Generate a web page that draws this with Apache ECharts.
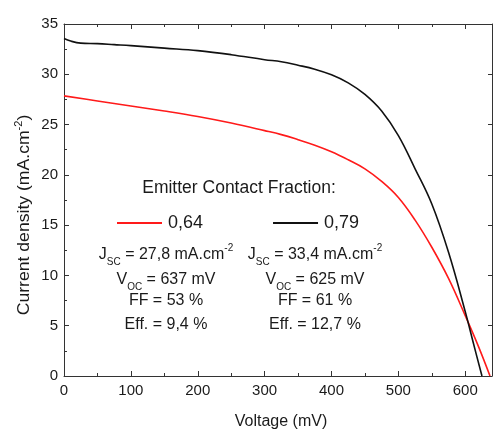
<!DOCTYPE html>
<html>
<head>
<meta charset="utf-8">
<script src="https://cdn.jsdelivr.net/npm/echarts@6/dist/echarts.min.js"></script>
<style>
  html, body { margin: 0; padding: 0; background: #fff; }
  #chart { width: 493px; height: 431px; }
</style>
</head>
<body>
<div id="chart"></div>
<script>
// J–V curves for two emitter contact fractions
const voltage079 = [0, 10, 25, 50, 75, 100, 150, 200, 250, 300, 325, 350, 375, 400, 425, 450, 475, 500, 525, 550, 575, 600, 612, 625];
const current079 = [33.55, 33.3, 33.1, 33.05, 32.95, 32.85, 32.6, 32.35, 31.95, 31.45, 31.25, 30.9, 30.5, 29.95, 29.15, 28.0, 26.35, 23.9, 20.6, 17.1, 12.3, 6.4, 3.3, 0];

const voltage064 = [0, 50, 100, 150, 200, 250, 300, 325, 350, 375, 400, 425, 450, 475, 500, 525, 550, 575, 600, 620, 637];
const current064 = [27.85, 27.35, 26.85, 26.35, 25.8, 25.15, 24.4, 24.0, 23.5, 22.95, 22.3, 21.5, 20.6, 19.35, 17.75, 15.5, 12.8, 9.7, 6.0, 2.9, 0];

const seriesNames = ['0,64', '0,79'];

// Cell parameters printed under the legend
const jsc = ['27,8', '33,4'];
const voc = ['637', '625'];
const ff = ['53', '61'];
const eff = ['9,4', '12,7'];

const FONT = 'Liberation Sans, Arial, sans-serif';
const TXT = '#1a1a1a';
const AXIS = '#333';

function pairs(xs, ys) { return xs.map((x, i) => [x, ys[i]]); }

const chart = echarts.init(document.getElementById('chart'), null, { renderer: 'canvas' });

const richStyles = {
  m: { fontSize: 16, fontFamily: FONT, fill: TXT, lineHeight: 18, verticalAlign: 'top', padding: [3, 0, 0, 0] },
  sub: { fontSize: 10, fontFamily: FONT, fill: TXT, lineHeight: 10, verticalAlign: 'top', padding: [13, 0, 0, 0] },
  sup: { fontSize: 10, fontFamily: FONT, fill: TXT, lineHeight: 10, verticalAlign: 'top' }
};

function plainText(x, y, text, size) {
  return { type: 'text', x: x, y: y, scaleY: 1.08,
    style: { text: text, fontSize: size, fontFamily: FONT, fill: TXT, align: 'center', verticalAlign: 'middle' } };
}

function block(cx, i) {
  return [
    { type: 'text', x: cx, y: 252, scaleY: 1.08, style: { text: '{m|J}{sub|SC}{m| = ' + jsc[i] + ' mA.cm}{sup|-2}', rich: richStyles, align: 'center', verticalAlign: 'middle' } },
    { type: 'text', x: cx, y: 277, scaleY: 1.08, style: { text: '{m|V}{sub|OC}{m| = ' + voc[i] + ' mV}', rich: richStyles, align: 'center', verticalAlign: 'middle' } },
    plainText(cx, 300, 'FF = ' + ff[i] + ' %', 16),
    plainText(cx, 324, 'Eff. = ' + eff[i] + ' %', 16)
  ];
}

const frameAxis = {
  type: 'value',
  axisLine: { show: true, onZero: false, lineStyle: { color: AXIS, width: 1 } },
  splitLine: { show: false }
};

chart.setOption({
  backgroundColor: '#fff',
  animation: false,
  grid: { left: 64, right: 1, top: 24, bottom: 55 },
  legend: {
    left: 112, top: 209,
    icon: 'rect',
    itemWidth: 45, itemHeight: 2, itemGap: 70,
    data: seriesNames,
    textStyle: { fontSize: 18, fontFamily: FONT, color: TXT, padding: [0, 0, 0, 1] }
  },
  xAxis: [
    Object.assign({}, frameAxis, {
      position: 'bottom', min: 0, max: 640, interval: 100,
      axisTick: { inside: true, length: 5, lineStyle: { color: AXIS } },
      minorTick: { show: true, splitNumber: 2, length: 3, lineStyle: { color: AXIS } },
      axisLabel: { fontSize: 15, fontFamily: FONT, color: TXT, margin: 7, showMaxLabel: false }
    }),
    Object.assign({}, frameAxis, {
      position: 'top', min: 0, max: 640, interval: 100,
      axisTick: { inside: true, length: 5, lineStyle: { color: AXIS } },
      minorTick: { show: true, splitNumber: 2, length: 3, lineStyle: { color: AXIS } },
      axisLabel: { show: false }
    })
  ],
  yAxis: [
    Object.assign({}, frameAxis, {
      position: 'left', min: 0, max: 35, interval: 5,
      axisTick: { inside: true, length: 5, lineStyle: { color: AXIS } },
      minorTick: { show: true, splitNumber: 2, length: 3, lineStyle: { color: AXIS } },
      axisLabel: { fontSize: 15, fontFamily: FONT, color: TXT, margin: 6 }
    }),
    Object.assign({}, frameAxis, {
      position: 'right', min: 0, max: 35, interval: 5,
      axisTick: { inside: true, length: 4, lineStyle: { color: AXIS } },
      axisLabel: { show: false }
    })
  ],
  series: [
    {
      // drawn on the top/right axis pair, which share the same ranges
      name: seriesNames[0], type: 'line', data: pairs(voltage064, current064),
      symbol: 'none', smooth: 0.4, xAxisIndex: 1, yAxisIndex: 1,
      lineStyle: { color: '#ff1a1a', width: 1.6 }, itemStyle: { color: '#ff1a1a' }
    },
    {
      name: seriesNames[1], type: 'line', data: pairs(voltage079, current079),
      symbol: 'none', smooth: 0.4, xAxisIndex: 0, yAxisIndex: 0,
      lineStyle: { color: '#111', width: 1.6 }, itemStyle: { color: '#111' }
    }
  ],
  graphic: [
    plainText(239, 188, 'Emitter Contact Fraction:', 17.5),
    ...block(166, 0),
    ...block(315, 1),
    { type: 'text', x: 281, y: 421, scaleY: 1.08, style: { text: 'Voltage (mV)', fontSize: 16, fontFamily: FONT, fill: TXT, align: 'center', verticalAlign: 'middle' } },
    { type: 'text', x: 23, y: 215, rotation: Math.PI / 2, scaleX: 1.1,
      style: {
        text: '{m|Current density (mA.cm}{sup|-2}{m|)}',
        align: 'center', verticalAlign: 'middle',
        rich: {
          m: { fontSize: 16, fontFamily: FONT, fill: TXT, lineHeight: 18, verticalAlign: 'top', padding: [3, 0, 0, 0] },
          sup: { fontSize: 10, fontFamily: FONT, fill: TXT, lineHeight: 10, verticalAlign: 'top' }
        }
      }
    }
  ]
});
</script>
</body>
</html>
